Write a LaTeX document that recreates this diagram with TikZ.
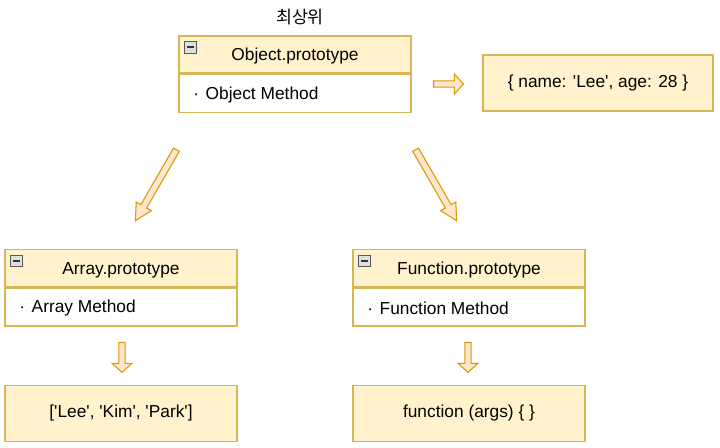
\documentclass[tikz,border=0pt]{standalone}
\usepackage{fontspec}
\setmainfont{Liberation Sans}
\newfontfamily\kofont{Noto Sans CJK KR}
\usepackage{tikz}
\usetikzlibrary{positioning, shapes.arrows}
\definecolor{headfill}{HTML}{FFF2CC}
\definecolor{boxline}{HTML}{D6B656}
\definecolor{arrowfill}{HTML}{FFE6CC}
\definecolor{arrowline}{HTML}{D79B00}
\newcommand{\sq}{\textquotesingle}

\begin{document}
\begin{tikzpicture}[x=0.75pt, y=-0.75pt, font=\fontsize{13}{15}\selectfont,
  head/.style={draw=boxline, fill=headfill, line width=1pt, minimum width=174pt, minimum height=27.75pt, inner sep=0pt,
    text height=11pt, text depth=2pt},
  body/.style={draw=boxline, fill=white, line width=1pt, minimum width=174pt, minimum height=28.5pt, inner sep=0pt},
  inst/.style={draw=boxline, fill=headfill, line width=1pt, minimum width=174pt, minimum height=42pt, inner sep=0pt},
  item/.style={anchor=west, inner sep=0pt},
  minusicon/.style={draw=gray!70!black, fill=gray!25, minimum size=8.5pt, inner sep=0pt, line width=0.5pt,
    path picture={\draw[line width=1.4pt, black!80] ([xshift=1.8pt]path picture bounding box.west) -- ([xshift=-1.8pt]path picture bounding box.east);}},
  longarrow/.style={single arrow, draw=arrowline, fill=arrowfill, line width=0.8pt, inner sep=2.1pt,
    minimum height=61.5pt, single arrow head extend=4pt, single arrow tip angle=55},
  shortarrow/.style={single arrow, draw=arrowline, fill=arrowfill, line width=0.8pt, inner sep=2pt,
    minimum height=22.5pt, single arrow head extend=5pt, single arrow tip angle=95}
]
  \useasboundingbox (0,0) rectangle (720,447);

  % Object
  \node[font=\kofont\fontsize{13}{15}\selectfont] (top) at (300,17) {최상위};
  \node[head] (objHead) at (295,54.5) {Object.prototype};
  \node[body, below=0pt of objHead] (objBody) {};
  \node[item] (objItem) at ([xshift=11pt, yshift=-1.2pt]objBody.west) {·\hspace{5pt}Object Method};
  \node[minusicon, anchor=north west] (objIcon) at ([xshift=4.5pt, yshift=-4.5pt]objHead.north west) {};
  \node[inst, minimum width=172.5pt] (objInst) at (598,83) {\{ name: \sq Lee\sq, age: 28 \}};

  % Array
  \node[head] (arrHead) at (121,268) {Array.prototype};
  \node[body, below=0pt of arrHead] (arrBody) {};
  \node[item] (arrItem) at ([xshift=11pt, yshift=-1.2pt]arrBody.west) {·\hspace{5pt}Array Method};
  \node[minusicon, anchor=north west] (arrIcon) at ([xshift=4.5pt, yshift=-4.5pt]arrHead.north west) {};
  \node[inst] (arrInst) at (121,413.5) {[\sq Lee\sq, \sq Kim\sq, \sq Park\sq]};

  % Function
  \node[head] (funHead) at (469,268) {Function.prototype};
  \node[body, below=0pt of funHead] (funBody) {};
  \node[item] (funItem) at ([xshift=11pt, yshift=-1.2pt]funBody.west) {·\hspace{5pt}Function Method};
  \node[minusicon, anchor=north west] (funIcon) at ([xshift=4.5pt, yshift=-4.5pt]funHead.north west) {};
  \node[inst] (funInst) at (469,413.5) {function (args) \{ \}};

  % Arrows
  \node[shortarrow] (objArrow) at (447,84) {};
  \node[longarrow, rotate=240] (arrArrow) at (157.5,182.5) {};
  \node[longarrow, rotate=300] (funArrow) at (434.5,182.5) {};
  \node[shortarrow, rotate=270] (arrDown) at (122,356) {};
  \node[shortarrow, rotate=270] (funDown) at (468,356) {};

\end{tikzpicture}
\end{document}
